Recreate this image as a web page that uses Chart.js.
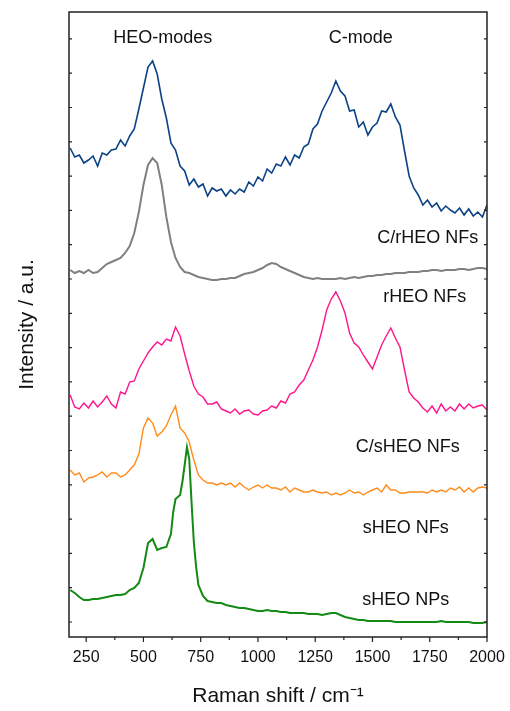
<!DOCTYPE html>
<html>
<head>
<meta charset="utf-8">
<script src="https://cdn.jsdelivr.net/npm/chart.js@4.4.1/dist/chart.umd.min.js"></script>
<style>
  html, body { margin: 0; padding: 0; background: #fff; }
  #wrap { width: 510px; height: 711px; }
</style>
</head>
<body>
<div id="wrap"><canvas id="ramanChart"></canvas></div>
<script>
// Raman shift (cm-1) sample positions shared by most spectra
var shift = [
    180, 200, 220, 240, 260, 280, 300, 320, 340, 360,
    380, 400, 420, 440, 460, 480, 500, 520, 540, 560,
    580, 600, 620, 640, 660, 680, 700, 720, 740, 760,
    780, 800, 820, 840, 860, 880, 900, 920, 940, 960,
    980, 1000, 1020, 1040, 1060, 1080, 1100, 1120, 1140, 1160,
    1180, 1200, 1220, 1240, 1260, 1280, 1300, 1320, 1340, 1360,
    1380, 1400, 1420, 1440, 1460, 1480, 1500, 1520, 1540, 1560,
    1580, 1600, 1620, 1640, 1660, 1680, 1700, 1720, 1740, 1760,
    1780, 1800, 1820, 1840, 1860, 1880, 1900, 1920, 1940, 1960,
    1980, 2000
];

// sHEO NPs has a sharp peak near 690, so it gets a denser grid there
var shiftNP = [
    180, 200, 220, 240, 260, 280, 300, 320, 340, 360,
    380, 400, 420, 440, 460, 480, 500, 520, 540, 560,
    580, 600, 620, 630, 640, 660, 670, 680, 690, 700,
    710, 720, 730, 740, 760,
    780, 800, 820, 840, 860, 880, 900, 920, 940, 960,
    980, 1000, 1020, 1040, 1060, 1080, 1100, 1120, 1140, 1160,
    1180, 1200, 1220, 1240, 1260, 1280, 1300, 1320, 1340, 1360,
    1380, 1400, 1420, 1440, 1460, 1480, 1500, 1520, 1540, 1560,
    1580, 1600, 1620, 1640, 1660, 1680, 1700, 1720, 1740, 1760,
    1780, 1800, 1820, 1840, 1860, 1880, 1900, 1920, 1940, 1960,
    1980, 2000
];

// intensities (a.u., offset stacked)
var cRheoNF = [
    489, 480, 482, 474, 477, 481, 471, 484, 482, 487,
    488, 497, 491, 501, 508, 528, 549, 570, 576, 563,
    538, 519, 494, 487, 471, 466, 452, 458, 450, 453,
    441, 449, 446, 448, 441, 447, 443, 448, 445, 455,
    451, 460, 456, 468, 464, 473, 471, 480, 472, 482,
    479, 490, 493, 508, 513, 526, 535, 544, 556, 546,
    541, 526, 527, 510, 515, 502, 510, 514, 526, 525,
    533, 520, 512, 486, 461, 449, 442, 432, 437, 430,
    434, 426, 431, 427, 424, 429, 422, 428, 421, 425,
    420, 432
];

var rheoNF = [
    367, 364, 366, 364, 367, 364, 365, 369, 373, 375,
    377, 379, 384, 391, 404, 425, 452, 472, 479, 474,
    452, 420, 395, 379, 370, 365, 364, 362, 360, 359,
    358, 357, 357, 358, 358, 359, 359, 361, 363, 364,
    365, 367, 369, 372, 374, 373, 370, 368, 366, 364,
    362, 360, 359, 358, 359, 358, 358, 358, 358, 359,
    358, 359, 360, 359, 360, 361, 361, 362, 362, 363,
    363, 364, 364, 364, 365, 365, 365, 366, 366, 367,
    367, 366, 367, 367, 367, 368, 368, 367, 368, 369,
    369, 368
];

var cSheoNF = [
    242, 230, 228, 234, 229, 236, 230, 235, 241, 233,
    229, 245, 243, 255, 256, 268, 276, 284, 290, 295,
    292, 298, 296, 310, 301, 283, 266, 251, 243, 240,
    233, 233, 235, 228, 226, 224, 228, 223, 226, 227,
    223, 222, 226, 227, 231, 229, 236, 234, 243, 245,
    252, 257, 267, 277, 290, 307, 327, 338, 345, 336,
    324, 304, 294, 290, 282, 275, 268, 280, 292, 301,
    309, 299, 290, 267, 245, 239, 235, 229, 225, 231,
    224, 233, 226, 230, 226, 233, 228, 233, 229, 231,
    232, 227
];

var sheoNF = [
    167, 162, 164, 155, 159, 160, 162, 165, 160, 164,
    164, 160, 162, 167, 172, 183, 209, 219, 214, 201,
    205, 211, 222, 231, 209, 204, 195, 177, 162, 157,
    154, 154, 152, 154, 152, 154, 150, 154, 150, 147,
    150, 152, 149, 152, 149, 149, 147, 150, 145, 149,
    147, 145, 145, 147, 145, 144, 145, 142, 144, 142,
    144, 147, 144, 145, 142, 145, 147, 149, 145, 152,
    147, 147, 144, 144, 145, 145, 145, 145, 144, 147,
    145, 147, 145, 149, 147, 150, 145, 149, 145, 149,
    150, 149
];

var sheoNP = [
    47, 44, 40, 37, 37, 38, 38, 39, 40, 41,
    42, 42, 43, 47, 49, 54, 69, 94, 98, 87,
    89, 90, 103, 125, 138, 142, 155, 172, 190, 178,
    135, 95, 70, 52, 41,
    36, 35, 34, 34, 32, 31, 30, 29, 29, 28,
    27, 26, 26, 27, 26, 26, 25, 25, 24, 24,
    24, 24, 23, 23, 23, 22, 23, 24, 24, 22,
    20, 19, 18, 17, 17, 16, 16, 16, 16, 16,
    16, 15, 15, 15, 15, 15, 15, 15, 15, 15,
    15, 16, 15, 15, 15, 15, 15, 15, 14, 14,
    14, 15
];

var xTickValues = [250, 500, 750, 1000, 1250, 1500, 1750, 2000];
var sampleNames = ["C/rHEO NFs", "rHEO NFs", "C/sHEO NFs", "sHEO NFs", "sHEO NPs"];
var bandNames = ["HEO-modes", "C-mode"];

var fontFamily = "'Liberation Sans', Arial, sans-serif";

function toPoints(xs, ys) {
    return xs.map(function (x, i) { return { x: x, y: ys[i] }; });
}

// text labels placed in data coordinates
var annotations = [
    { text: bandNames[0], x: 584, y: 599 },
    { text: bandNames[1], x: 1449, y: 599 },
    { text: sampleNames[0], x: 1741, y: 399 },
    { text: sampleNames[1], x: 1728, y: 340 },
    { text: sampleNames[2], x: 1654, y: 190 },
    { text: sampleNames[3], x: 1645, y: 109 },
    { text: sampleNames[4], x: 1645, y: 37 }
];

var frameAndLabels = {
    id: "frameAndLabels",
    afterDatasetsDraw: function (chart) {
        var ctx = chart.ctx;
        var area = chart.chartArea;
        var xs = chart.scales.x;
        var ys = chart.scales.y;
        ctx.save();
        ctx.strokeStyle = "#222";
        ctx.lineWidth = 1.5;
        ctx.strokeRect(area.left, area.top, area.right - area.left, area.bottom - area.top);

        // x ticks (outside), major + minor
        ctx.lineWidth = 1.2;
        ctx.beginPath();
        xTickValues.forEach(function (v) {
            var px = xs.getPixelForValue(v);
            ctx.moveTo(px, area.bottom);
            ctx.lineTo(px, area.bottom + 5);
            var m = xs.getPixelForValue(v + 125);
            if (v + 125 < 2000) {
                ctx.moveTo(m, area.bottom);
                ctx.lineTo(m, area.bottom + 3);
            }
        });
        // y ticks (inside), both sides
        for (var yv = 15; yv < 625; yv += 34.3) {
            var py = ys.getPixelForValue(yv);
            ctx.moveTo(area.left, py);
            ctx.lineTo(area.left + 3, py);
            ctx.moveTo(area.right, py);
            ctx.lineTo(area.right - 3, py);
        }
        ctx.stroke();

        ctx.fillStyle = "#111";
        ctx.font = "18px " + fontFamily;
        ctx.textAlign = "center";
        ctx.textBaseline = "middle";
        annotations.forEach(function (a) {
            ctx.fillText(a.text, xs.getPixelForValue(a.x), ys.getPixelForValue(a.y));
        });
        ctx.restore();
    }
};

var ctx = document.getElementById("ramanChart").getContext("2d");
new Chart(ctx, {
    type: "line",
    data: {
        datasets: [
            { label: sampleNames[0], data: toPoints(shift, cRheoNF), borderColor: "#0b4285", borderWidth: 1.6 },
            { label: sampleNames[1], data: toPoints(shift, rheoNF), borderColor: "#808080", borderWidth: 2 },
            { label: sampleNames[2], data: toPoints(shift, cSheoNF), borderColor: "#ff148c", borderWidth: 1.4 },
            { label: sampleNames[3], data: toPoints(shift, sheoNF), borderColor: "#ff8c1a", borderWidth: 1.4 },
            { label: sampleNames[4], data: toPoints(shiftNP, sheoNP), borderColor: "#138a13", borderWidth: 2 }
        ]
    },
    options: {
        responsive: true,
        maintainAspectRatio: false,
        animation: false,
        elements: { point: { radius: 0 }, line: { tension: 0, fill: false } },
        layout: { padding: { top: 12, right: 23, left: 0, bottom: 0 } },
        plugins: { legend: { display: false }, tooltip: { enabled: false } },
        scales: {
            x: {
                type: "linear",
                min: 175,
                max: 2000,
                afterBuildTicks: function (s) {
                    s.ticks = xTickValues.map(function (v) { return { value: v }; });
                },
                afterFit: function (s) {
                    s.height = 74;
                    s.paddingLeft = 0;
                    s.paddingRight = 0;
                },
                grid: { display: false, drawTicks: false },
                border: { display: false },
                ticks: {
                    color: "#111",
                    font: { family: fontFamily, size: 16 },
                    padding: 11,
                    autoSkip: false,
                    maxRotation: 0,
                    callback: function (v) { return String(v); }
                },
                title: {
                    display: true,
                    text: "Raman shift / cm\u207B\u00B9",
                    color: "#111",
                    font: { family: fontFamily, size: 21 },
                    padding: { top: 0, bottom: 2 }
                }
            },
            y: {
                min: 0,
                max: 625,
                afterFit: function (s) { s.width = 69; },
                grid: { display: false, drawTicks: false },
                border: { display: false },
                ticks: { display: false },
                title: {
                    display: true,
                    text: "Intensity / a.u.",
                    color: "#111",
                    font: { family: fontFamily, size: 21 },
                    padding: { top: 15, bottom: 0 }
                }
            }
        }
    },
    plugins: [frameAndLabels]
});
</script>
</body>
</html>
